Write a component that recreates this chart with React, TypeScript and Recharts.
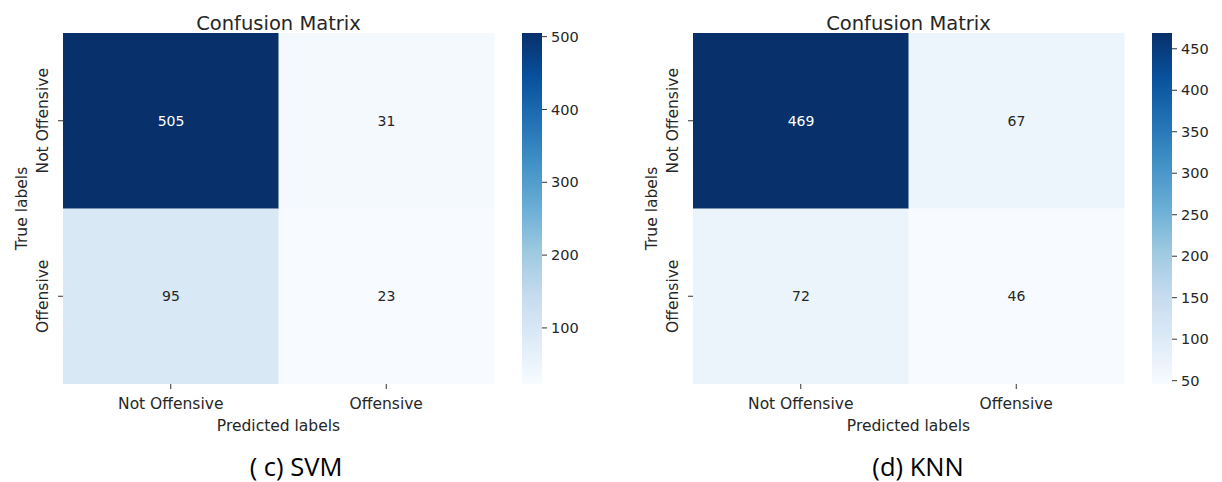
import React from 'react'
import { BarChart, Bar, XAxis, YAxis, Cell, LabelList, Label } from 'recharts'

// confusion matrix values, rows = true label, columns = predicted label
const classLabels = ['Not Offensive', 'Offensive']
const svmNotOffensiveRow = [505, 31]
const svmOffensiveRow = [95, 23]
const knnNotOffensiveRow = [469, 67]
const knnOffensiveRow = [72, 46]
const svmColorbarTicks = [100, 200, 300, 400, 500]
const knnColorbarTicks = [50, 100, 150, 200, 250, 300, 350, 400, 450]

// matplotlib "Blues" colormap stops
const blues = ['#f7fbff', '#deebf7', '#c6dbef', '#9ecae1', '#6baed6', '#4292c6', '#2171b5', '#08519c', '#08306b']

const hexToRgb = (h: string) => [1, 3, 5].map((i) => parseInt(h.slice(i, i + 2), 16))

const bluesAt = (t: number) => {
  const c = Math.max(0, Math.min(1, t)) * (blues.length - 1)
  const i = Math.min(Math.floor(c), blues.length - 2)
  const f = c - i
  const a = hexToRgb(blues[i])
  const b = hexToRgb(blues[i + 1])
  const rgb = a.map((v, k) => Math.round(v + (b[k] - v) * f))
  return `rgb(${rgb.join(',')})`
}

const TEXT = '#262626'
const FONT = '"DejaVu Sans", sans-serif'
const LABEL_SIZE = 15.5

type PanelProps = {
  left: number
  topRow: number[]
  bottomRow: number[]
  ticks: number[]
  caption: string
  captionX: number
  gradId: string
}

const Panel: React.FC<PanelProps> = ({ left, topRow, bottomRow, ticks, caption, captionX, gradId }) => {
  const all = [...topRow, ...bottomRow]
  const vmin = Math.min(...all)
  const vmax = Math.max(...all)
  const norm = (v: number) => (v - vmin) / (vmax - vmin)

  const data = classLabels.map((c, i) => ({
    predicted: c,
    lower: 1,
    upper: 1,
    lowerCount: bottomRow[i],
    upperCount: topRow[i],
  }))

  const cellText = (p: any) => {
    const x = Number(p.x), y = Number(p.y), w = Number(p.width), h = Number(p.height)
    const v = Number(p.value)
    return (
      <text x={x + w / 2} y={y + h / 2} textAnchor="middle" dominantBaseline="central"
        fontSize={14} fill={norm(v) > 0.6 ? '#ffffff' : TEXT}>
        {v}
      </text>
    )
  }

  const rowTick = (p: any) => {
    const label = p.payload.value > 1 ? classLabels[0] : classLabels[1]
    return (
      <text x={48} y={p.y} transform={`rotate(-90 48 ${p.y})`} textAnchor="middle" fontSize={LABEL_SIZE} fill={TEXT}>
        {label}
      </text>
    )
  }

  // top of the colorbar is the darkest colour, stops must be listed top to bottom
  const stops = [...blues].reverse()

  return (
    <div style={{ position: 'absolute', left, top: 0, width: 600, height: 482, fontFamily: FONT }}>
      <div style={{ position: 'absolute', left: 0, top: 0 }}>
        <BarChart width={520} height={440} data={data} barCategoryGap={0}
          margin={{ top: 33, right: 26, bottom: 0, left: 0 }}>
          <XAxis dataKey="predicted" height={56} axisLine={false} tickSize={5} tickMargin={9}
            tickLine={{ stroke: '#333' }} tick={{ fontSize: LABEL_SIZE, fill: TEXT }} interval={0}>
            <Label content={(p: any) => {
              const vb = p.viewBox
              return (
                <text x={vb.x + vb.width / 2} y={vb.y + 47} textAnchor="middle" fontSize={LABEL_SIZE} fill={TEXT}>
                  Predicted labels
                </text>
              )
            }} />
          </XAxis>
          <YAxis type="number" domain={[0, 2]} ticks={[0.5, 1.5]} width={63} axisLine={false}
            tickSize={5} tickLine={{ stroke: '#333' }} tick={rowTick}>
            <Label content={(p: any) => {
              const vb = p.viewBox
              const cy = vb.y + vb.height / 2
              return (
                <text x={vb.x + 27} y={cy} transform={`rotate(-90 ${vb.x + 27} ${cy})`}
                  textAnchor="middle" fontSize={LABEL_SIZE} fill={TEXT}>
                  True labels
                </text>
              )
            }} />
          </YAxis>
          <Bar dataKey="lower" stackId="m" isAnimationActive={false}>
            {data.map((d) => <Cell key={d.predicted} fill={bluesAt(norm(d.lowerCount))} />)}
            <LabelList dataKey="lowerCount" content={cellText} />
          </Bar>
          <Bar dataKey="upper" stackId="m" isAnimationActive={false}>
            {data.map((d) => <Cell key={d.predicted} fill={bluesAt(norm(d.upperCount))} />)}
            <LabelList dataKey="upperCount" content={cellText} />
          </Bar>
        </BarChart>
      </div>

      <div style={{ position: 'absolute', left: 522, top: 0 }}>
        <BarChart width={60} height={440} data={[{ name: 'scale', range: [vmin, vmax] }]} barCategoryGap={0}
          margin={{ top: 33, right: 0, bottom: 56, left: 0 }}>
          <defs>
            <linearGradient id={gradId} x1="0" y1="0" x2="0" y2="1">
              {stops.map((c, i) => (
                <stop key={c} offset={i / (stops.length - 1)} stopColor={c} />
              ))}
            </linearGradient>
          </defs>
          <XAxis dataKey="name" hide />
          <YAxis type="number" orientation="right" domain={[vmin, vmax]} ticks={ticks} width={40}
            axisLine={false} tickSize={5} tickMargin={4} tickLine={{ stroke: '#333' }}
            tick={{ fontSize: 14.5, fill: TEXT, textAnchor: 'start' }} />
          <Bar dataKey="range" fill={`url(#${gradId})`} isAnimationActive={false} />
        </BarChart>
      </div>

      <svg width={600} height={482} style={{ position: 'absolute', left: 0, top: 0, pointerEvents: 'none' }}>
        <text x={278.5} y={30} textAnchor="middle" fontSize={19.5} fill={TEXT} fontFamily={FONT}>
          Confusion Matrix
        </text>
        <text x={captionX} y={476} textAnchor="middle" fontSize={25.5} fill="#000" fontFamily='"Open Sans", sans-serif'>
          {caption}
        </text>
      </svg>
    </div>
  )
}

const App: React.FC = () => {
  return (
    <div style={{ position: 'absolute', left: 0, top: 0, width: 1222, height: 482, background: '#fff', overflow: 'hidden' }}>
      <Panel left={0} topRow={svmNotOffensiveRow} bottomRow={svmOffensiveRow} ticks={svmColorbarTicks}
        caption="( c) SVM" captionX={296} gradId="bluesSvm" />
      <Panel left={630} topRow={knnNotOffensiveRow} bottomRow={knnOffensiveRow} ticks={knnColorbarTicks}
        caption="(d) KNN" captionX={288} gradId="bluesKnn" />
    </div>
  )
}

export default App
